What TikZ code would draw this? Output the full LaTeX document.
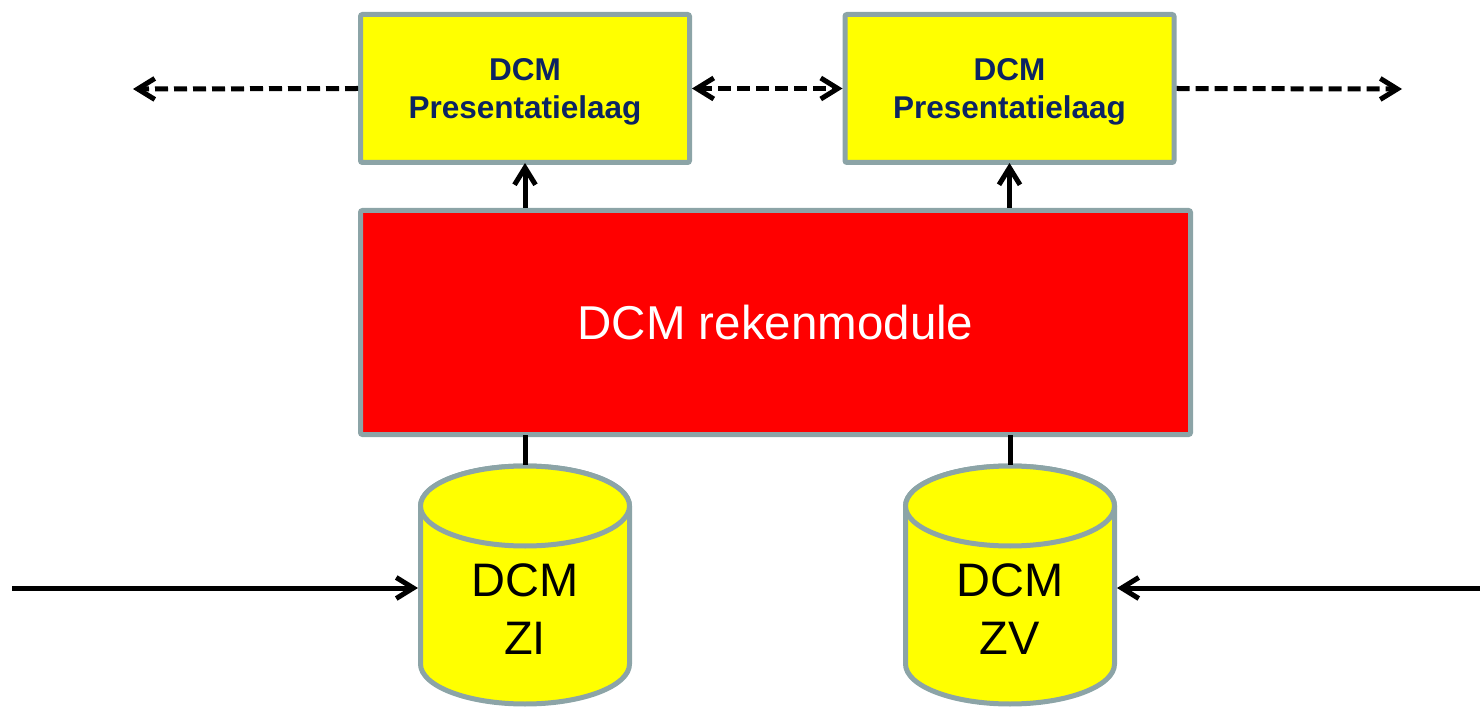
\documentclass[tikz,border=0pt]{standalone}
\usepackage{fontspec}
\setmainfont{Liberation Sans}
\usetikzlibrary{arrows.meta}
\definecolor{bordergray}{RGB}{140,164,167}
\definecolor{navytext}{RGB}{12,36,98}
\definecolor{ylw}{RGB}{255,255,0}
\definecolor{rd}{RGB}{255,0,0}
\begin{document}
\begin{tikzpicture}[x=1pt,y=-1pt,
  presbox/.style={draw=bordergray,fill=ylw,line width=5pt,rounded corners=2pt,
    minimum width=329pt,minimum height=148pt,inner sep=0pt,align=center,text depth=0pt,
    text=navytext,font=\bfseries\fontsize{31.5}{38}\selectfont},
  rekbox/.style={draw=bordergray,fill=rd,line width=5pt,rounded corners=2pt,
    minimum width=830pt,minimum height=224pt,inner sep=0pt,text=white,
    font=\fontsize{47.5}{57}\selectfont},
  cylbody/.style={draw=bordergray,fill=ylw,line width=5pt},
  cyllabel/.style={minimum width=214pt,minimum height=288pt,inner sep=0pt,align=center,
    font=\fontsize{47}{58}\selectfont},
  tipc/.tip={Straight Barb[length=17pt,width=21pt,line width=5pt]},
  conn/.style={line width=5pt,black},
  dconn/.style={line width=5pt,black,dash pattern=on 13pt off 6pt}
]
\useasboundingbox (0,0) rectangle (1480,708);

% cylinders
\draw[cylbody] (420.5,506) -- (420.5,664)
  arc[start angle=180,end angle=360,x radius=104.5pt,y radius=40pt]
  -- (629.5,506)
  arc[start angle=0,end angle=180,x radius=104.5pt,y radius=40pt] -- cycle;
\draw[cylbody] (525,506) ellipse[x radius=104.5pt,y radius=40pt];
\draw[cylbody] (905.5,506) -- (905.5,664)
  arc[start angle=180,end angle=360,x radius=104.5pt,y radius=40pt]
  -- (1114.5,506)
  arc[start angle=0,end angle=180,x radius=104.5pt,y radius=40pt] -- cycle;
\draw[cylbody] (1010,506) ellipse[x radius=104.5pt,y radius=40pt];

\node[cyllabel] (zi) at (525,609) {DCM\\ZI};
\node[cyllabel] (zv) at (1010,609) {DCM\\ZV};

% boxes
\node[presbox] (p1) at (525,88.5) {DCM\\Presentatielaag};
\node[presbox] (p2) at (1009.5,88.5) {DCM\\Presentatielaag};
\node[rekbox] (rk) at (775.5,322.5) {DCM rekenmodule};

% free ends
\coordinate (lEnd) at (133,89);
\coordinate (rEnd) at (1402,89);
\coordinate (inL) at (12,588);
\coordinate (inR) at (1480,588);

% connectors
\draw[dconn,-tipc] (p1.west) -- (lEnd);
\draw[dconn,tipc-tipc] (p1.east) -- (p2.west);
\draw[dconn,-tipc] (p2.east) -- (rEnd);
\draw[conn,-tipc] (rk.north -| p1.south) -- ([yshift=2pt]p1.south);
\draw[conn,-tipc] (rk.north -| p2.south) -- ([yshift=2pt]p2.south);
\draw[conn] ([yshift=2pt]rk.south -| zi.north) -- (zi.north);
\draw[conn] ([yshift=2pt]rk.south -| zv.north) -- (zv.north);
\draw[conn,-tipc] (inL) -- (inL -| 418,0);
\draw[conn,-tipc] (inR) -- (inR -| 1117,0);
\end{tikzpicture}
\end{document}
